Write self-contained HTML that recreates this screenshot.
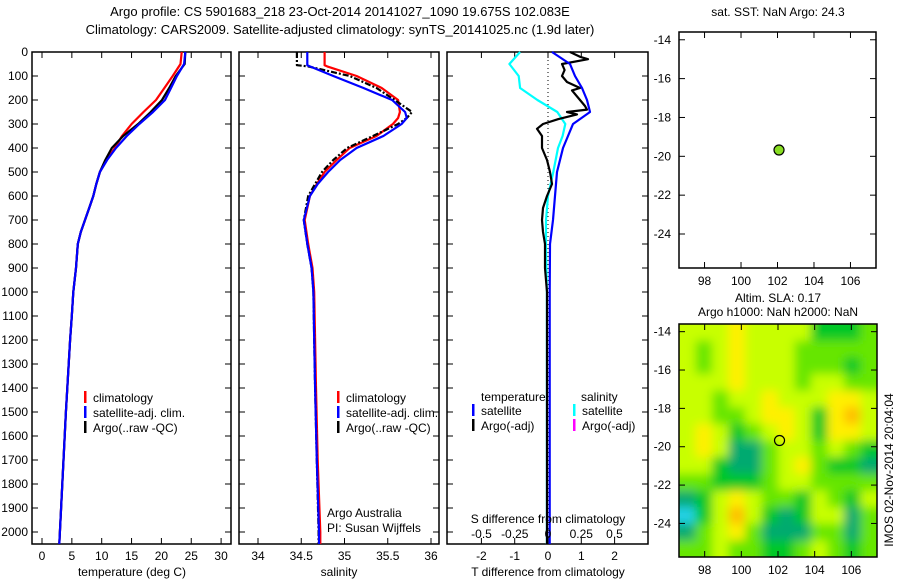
<!DOCTYPE html>
<html><head><meta charset="utf-8"><style>
body{margin:0;background:#fff;}
svg{display:block;font-family:"Liberation Sans",sans-serif;}
text{font-size:12px;fill:#000;}
</style></head><body>
<svg id="c" width="900" height="580" viewBox="0 0 900 580">
<text x="340" y="16" text-anchor="middle" style="font-size:13px">Argo profile: CS 5901683_218 23-Oct-2014 20141027_1090 19.675S 102.083E</text>
<text x="340" y="34" text-anchor="middle" style="font-size:13px">Climatology: CARS2009. Satellite-adjusted climatology: synTS_20141025.nc (1.9d later)</text>
<g id="g"></g>
</svg>
<script>
// ---- data ----
const tDepth=[0,50,100,150,200,250,300,350,400,450,500,550,600,650,700,750,800,900,1000,1100,1200,1500,2000,2050];
const tClim=[23.4,23.2,21.9,20.5,19.1,17.0,15.0,13.4,12.2,10.8,9.7,9.1,8.6,7.9,7.2,6.5,6.0,5.7,5.25,5.0,4.7,4.0,3.0,2.9];
const tSat=[24.0,23.8,22.6,21.6,20.6,18.6,16.3,14.2,12.4,10.9,9.7,9.1,8.6,7.9,7.2,6.5,6.0,5.7,5.25,5.0,4.7,4.0,3.0,2.9];
const tArgo=[24.0,23.9,22.4,21.3,20.1,18.2,16.1,13.6,11.7,10.6,9.7,9.1,8.6,7.9,7.2,6.5,6.0,5.7,5.25,5.0,4.7,4.0,3.0,2.9];
const sDepth=[0,55,60,100,150,200,250,275,300,350,400,450,500,550,600,700,800,900,1000,1200,1400,1700,2000,2050];
const sClim=[34.77,34.77,34.8,35.14,35.43,35.62,35.64,35.62,35.56,35.37,35.06,34.91,34.77,34.68,34.6,34.54,34.58,34.63,34.65,34.66,34.67,34.69,34.72,34.72];
const sSat=[34.57,34.57,34.6,34.87,35.22,35.55,35.70,35.72,35.66,35.45,35.14,34.95,34.81,34.69,34.6,34.53,34.57,34.62,34.64,34.65,34.66,34.68,34.705,34.705];
const sArgo=[34.45,34.45,34.58,35.06,35.37,35.58,35.78,35.72,35.62,35.33,35.03,34.87,34.74,34.66,34.58,34.53,34.57,34.62,34.64,34.65,34.66,34.68,34.70,34.70];
const dtSatDepth=[0,50,100,150,200,250,300,350,400,500,600,700,800,1000,2050];
const dtSat=[0.12,0.66,0.81,1.02,1.17,1.26,0.75,0.6,0.45,0.27,0.21,0.15,0.06,0.05,0.05];
const dsSat=[-0.21,-0.29,-0.22,-0.21,-0.08,0.07,0.13,0.11,0.075,0.04,0.0,-0.015,-0.015,-0.008,-0.008];
const dtArgoDepth=[0,20,30,50,75,100,125,150,160,200,225,240,250,260,280,300,320,350,400,450,500,550,600,650,700,750,800,900,1000,1500,2050];
const dtArgo=[0.66,0.96,1.2,0.42,0.5,0.42,0.57,0.96,0.72,0.96,1.11,1.17,0.57,0.87,0.3,-0.15,-0.33,-0.18,-0.18,-0.03,0.06,0.12,-0.03,-0.15,-0.18,-0.15,-0.09,-0.09,-0.03,-0.03,-0.03];
const depthTicks=[0,100,200,300,400,500,600,700,800,900,1000,1100,1200,1300,1400,1500,1600,1700,1800,1900,2000];
const tempTicks=[0,5,10,15,20,25,30];
const salTicks=[34,34.5,35,35.5,36];
const tdTicks=[-2,-1,0,1,2];
const sdTicks=[-0.5,-0.25,0,0.25,0.5];
const lonTicks=[98,100,102,104,106];
const latTicks=[-14,-16,-18,-20,-22,-24];
const argoLon=[102.083], argoLat=[-19.675];
const slaGrid=[
[4,4,4,5,4,4,4,4,2,2,2,3],
[4,3,4,5,4,4,4,3,3,3,3,3],
[4,3,4,5,4,4,4,3,3,3,2,3],
[4,4,4,5,4,4,4,3,4,4,3,3],
[4,4,3,4,4,5,4,4,4,5,5,4],
[4,4,3,3,4,5,5,4,2,5,6,4],
[4,5,4,2,3,4,5,4,2,5,5,4],
[4,5,4,1,1,3,4,4,3,4,3,2],
[4,4,2,1,1,3,4,5,3,2,2,1],
[3,3,2,2,2,3,4,4,3,3,3,3],
[1,2,4,5,4,3,3,2,4,3,2,4],
[0,2,4,6,4,2,1,2,4,4,1,3],
[1,3,4,5,3,1,1,1,3,3,1,3],
[3,3,4,3,3,2,2,3,4,3,2,3]];
const palette=['#20d2e6','#00aa70','#00c828','#66e600','#c8ff00','#fff000','#ffbe00'];

// ---- helpers ----
const NS='http://www.w3.org/2000/svg';const G=document.getElementById('g');
function el(tag,attrs,parent){const e=document.createElementNS(NS,tag);for(const k in attrs)e.setAttribute(k,attrs[k]);(parent||G).appendChild(e);return e;}
function txt(x,y,s,anchor,name,extra){const t=el('text',Object.assign({x:x,y:y,'text-anchor':anchor||'middle'},extra||{}));t.textContent=s;


return t;}
const Y0=52,Y1=544,DMAX=2050;
const yD=d=>Y0+d/DMAX*(Y1-Y0);
const xT=v=>42+v*5.97;
const xS=v=>258+(v-34)*86.5;
const xTD=v=>548+v*33.3;
const xSD=v=>548+v*133;

function frame(x0,x1,name){const r=el('rect',{x:x0,y:Y0,width:x1-x0,height:Y1-Y0,fill:'none',stroke:'#000','stroke-width':1.5});

}
function line(xs,ys,xf,color,name,dash){const pts=xs.map((v,i)=>xf(v).toFixed(1)+','+yD(ys[i]).toFixed(1)).join(' ');
const p=el('polyline',{points:pts,fill:'none',stroke:color,'stroke-width':2.2,'stroke-linejoin':'round'});if(dash)p.setAttribute('stroke-dasharray',dash);

}
function depthTickMarks(x0,x1,labels){depthTicks.forEach(d=>{const y=yD(d);el('line',{x1:x0,y1:y,x2:x0+6,y2:y,stroke:'#000'});el('line',{x1:x1,y1:y,x2:x1-6,y2:y,stroke:'#000'});
if(labels)txt(28,y+4,String(d),'end','depth-tick-label');});}
function xTicks(ticks,xf,ly,name,fmt){ticks.forEach(v=>{const x=xf(v);el('line',{x1:x,y1:Y0,x2:x,y2:Y0+6,stroke:'#000'});el('line',{x1:x,y1:Y1,x2:x,y2:Y1-6,stroke:'#000'});
if(ly)txt(x,ly,fmt?fmt(v):String(v),'middle',name);});}
function legendEntry(x,y,color,label,name){el('rect',{x:x,y:y-11,width:2.5,height:12,fill:color});const t=txt(x+9,y,label,'start',name);}

// panel 1 temperature
frame(32,231,'temperature-panel');depthTickMarks(32,231,true);xTicks(tempTicks,xT,560,'temperature-tick-label');
line(tClim,tDepth,xT,'#f00','temperature-climatology-line');
line(tArgo,tDepth,xT,'#000','temperature-argo-line');
line(tSat,tDepth,xT,'#0000ff','temperature-satellite-line');
txt(132,576,'temperature (deg C)','middle','temperature-axis-title');
legendEntry(84,402,'#f00','climatology','legend-climatology');
legendEntry(84,417,'#0000ff','satellite-adj. clim.','legend-satellite');
legendEntry(84,432,'#000','Argo(..raw -QC)','legend-argo');

// panel 2 salinity
frame(239,439,'salinity-panel');depthTickMarks(239,439,false);xTicks(salTicks,xS,560,'salinity-tick-label');
line(sClim,sDepth,xS,'#f00','salinity-climatology-line');
line(sArgo,sDepth,xS,'#000','salinity-argo-line','6,2,2,2');
line(sSat,sDepth,xS,'#0000ff','salinity-satellite-line');
txt(339,576,'salinity','middle','salinity-axis-title');
legendEntry(337,402,'#f00','climatology','legend-climatology-2');
legendEntry(337,417,'#0000ff','satellite-adj. clim.','legend-satellite-2');
legendEntry(337,432,'#000','Argo(..raw -QC)','legend-argo-2');
txt(327,517,'Argo Australia','start','credit-argo-australia');
txt(327,532,'PI: Susan Wijffels','start','credit-pi');

// panel 3 differences
frame(447,648,'difference-panel');depthTickMarks(447,648,false);xTicks(tdTicks,xTD,560,'t-diff-tick-label');
el('line',{x1:548,y1:Y0,x2:548,y2:Y1,stroke:'#000','stroke-dasharray':'1,3'});
line(dsSat,dtSatDepth,xSD,'#00ffff','salinity-satellite-diff-line');
line(dtArgo,dtArgoDepth,xTD,'#000','temperature-argo-diff-line');
line(dtSat,dtSatDepth,xTD,'#0000ff','temperature-satellite-diff-line');
txt(548,523,'S difference from climatology','middle','s-diff-axis-title');
sdTicks.forEach(v=>txt(xSD(v),538,String(v),'middle','s-diff-tick-label'));
txt(548,576,'T difference from climatology','middle','t-diff-axis-title');
txt(481,401,'temperature','start','legend-temperature-heading');
txt(581,401,'salinity','start','legend-salinity-heading');
legendEntry(472,415,'#0000ff','satellite','legend-temp-satellite');
legendEntry(472,430,'#000','Argo(-adj)','legend-temp-argo');
legendEntry(573,415,'#00ffff','satellite','legend-sal-satellite');
legendEntry(573,430,'#ff00ff','Argo(-adj)','legend-sal-argo');

// map panels
const LON0=96.6,LON1=107.4,LAT0=-13.6,LAT1=-25.75;
function mapPanel(x0,y0,x1,y1,name,heat){
const xL=v=>x0+(v-LON0)/(LON1-LON0)*(x1-x0);
const yL=v=>y0+(v-LAT0)/(LAT1-LAT0)*(y1-y0);
if(heat){const rows=slaGrid.length,cols=slaGrid[0].length;const cw=(x1-x0)/cols,ch=(y1-y0)/rows;
const cl=el('clipPath',{id:'clp'});el('rect',{x:x0,y:y0,width:x1-x0,height:y1-y0},cl);
const f=el('filter',{id:'bl',x:'-10%',y:'-10%',width:'120%',height:'120%'});el('feGaussianBlur',{stdDeviation:5},f);
const hg=el('g',{'clip-path':'url(#clp)'});const ig=el('g',{filter:'url(#bl)'},hg);
slaGrid.forEach((row,r)=>row.forEach((v,c)=>{const cell=el('rect',{x:x0+c*cw-(c==0?10:0),y:y0+r*ch-(r==0?10:0),width:cw+1+(c==0||c==cols-1?10:0),height:ch+1+(r==0||r==rows-1?10:0),fill:palette[v]},ig);

}));}
const r=el('rect',{x:x0,y:y0,width:x1-x0,height:y1-y0,fill:'none',stroke:'#000','stroke-width':1.5});


lonTicks.forEach(v=>{const x=xL(v);el('line',{x1:x,y1:y0,x2:x,y2:y0+6,stroke:'#000'});el('line',{x1:x,y1:y1,x2:x,y2:y1-6,stroke:'#000'});txt(x,y1+17,String(v),'middle','longitude-tick-label');});
latTicks.forEach(v=>{const y=yL(v);el('line',{x1:x0,y1:y,x2:x0+6,y2:y,stroke:'#000'});el('line',{x1:x1,y1:y,x2:x1-6,y2:y,stroke:'#000'});txt(x0-8,y+4,String(v),'end','latitude-tick-label');});
const c=el('circle',{cx:xL(argoLon[0]),cy:yL(argoLat[0]),r:5,fill:heat?'none':'#88dd22',stroke:'#000','stroke-width':1.2});

}
mapPanel(679,32,876,268,'sst-map-panel',false);
mapPanel(679,324,877,557,'sla-map-panel',true);
txt(778,16,'sat. SST: NaN Argo: 24.3','middle','sst-map-title');
txt(778,302,'Altim. SLA: 0.17','middle','sla-map-title-1');
txt(778,316,'Argo h1000: NaN h2000: NaN','middle','sla-map-title-2');
txt(0,0,'IMOS 02-Nov-2014 20:04:04','middle','imos-timestamp',{transform:'translate(893,470) rotate(-90)'});
</script>
</body></html>
